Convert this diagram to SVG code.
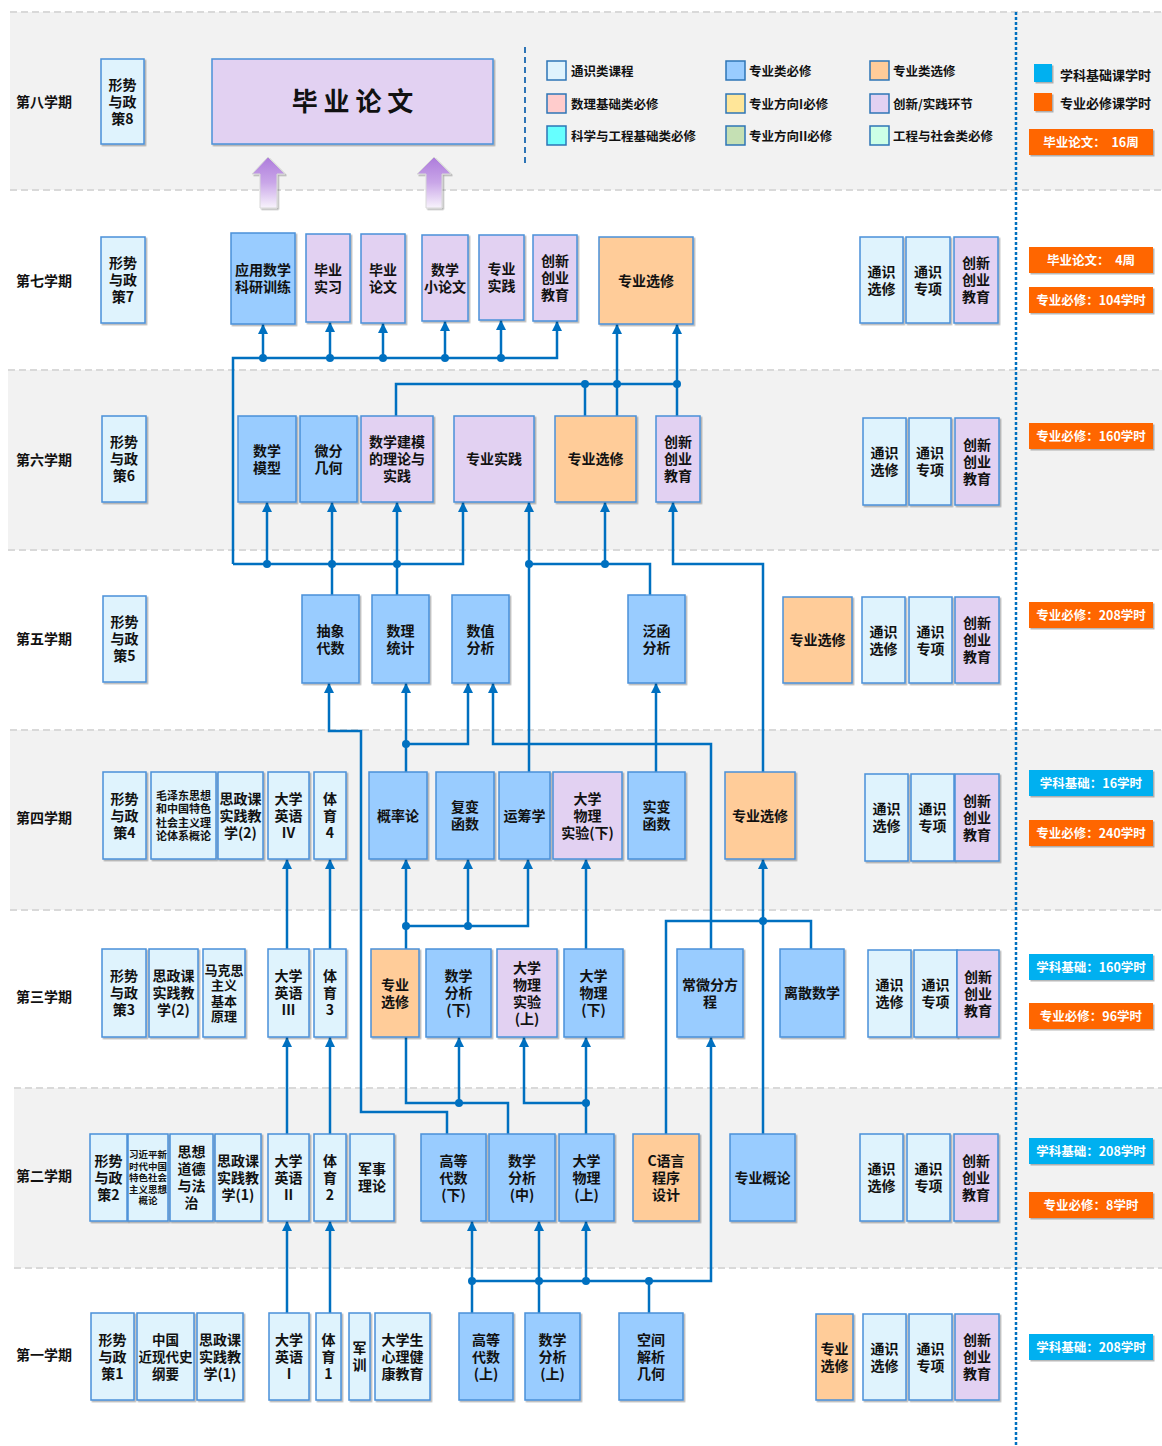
<svg xmlns="http://www.w3.org/2000/svg" width="1162" height="1446" viewBox="0 0 1162 1446">
<defs>
<style>
.nd{stroke:#4a90d9;stroke-width:1.5;filter:url(#sh)}
.g{fill:#dff3fd}.p{fill:#e2d1f2}.bl{fill:#99ccff}.o{fill:#ffcc99}
text{font-family:"Noto Sans CJK SC","Noto Sans",sans-serif;font-weight:bold;fill:#111}
.t{font-size:14px;text-anchor:middle}
.lab{font-size:14px}
.lg{font-size:12.5px}
.bd{font-size:12.5px;fill:#fff;text-anchor:middle;white-space:pre}
.c{fill:none;stroke:#0070c0;stroke-width:2.5}
.ar{marker-end:url(#a)}
.d{fill:#0070c0}
.sep{stroke:#d9d9d9;stroke-width:2;stroke-dasharray:7 4}
.band{fill:#f2f2f2}
.ls{stroke:#2e75b6;stroke-width:1.5}
</style>
<filter id="sh" x="-10%" y="-10%" width="130%" height="130%"><feDropShadow dx="1.5" dy="1.5" stdDeviation="0.7" flood-color="#000" flood-opacity="0.28"/></filter>
<marker id="a" viewBox="0 0 10 10" refX="10" refY="5" markerWidth="10" markerHeight="10" markerUnits="userSpaceOnUse" orient="auto"><path d="M0,0 L10,5 L0,10 z" fill="#0070c0"/></marker>
<linearGradient id="pg" x1="0" y1="0" x2="0" y2="1"><stop offset="0" stop-color="#ad7bdb"/><stop offset="0.5" stop-color="#c9a6e8"/><stop offset="1" stop-color="#f8f3fc"/></linearGradient>
</defs>

<g id="background">
<rect x="0" y="0" width="1162" height="1446" fill="#fff"/>
<rect class="band" x="10" y="12" width="1152" height="178"/>
<rect class="band" x="8" y="370" width="1154" height="180"/>
<rect class="band" x="10" y="730" width="1152" height="180"/>
<rect class="band" x="14" y="1088" width="1148" height="180"/>
<line class="sep" x1="10" y1="12" x2="1162" y2="12"/>
<line class="sep" x1="10" y1="190" x2="1162" y2="190"/>
<line class="sep" x1="8" y1="370" x2="1162" y2="370"/>
<line class="sep" x1="8" y1="550" x2="1162" y2="550"/>
<line class="sep" x1="10" y1="730" x2="1162" y2="730"/>
<line class="sep" x1="10" y1="910" x2="1162" y2="910"/>
<line class="sep" x1="14" y1="1088" x2="1162" y2="1088"/>
<line class="sep" x1="14" y1="1268" x2="1162" y2="1268"/>
<line x1="1016" y1="12" x2="1016" y2="1446" stroke="#0070c0" stroke-width="2.5" stroke-dasharray="3 2"/>
<line x1="525" y1="47" x2="525" y2="163" stroke="#2e75b6" stroke-width="2" stroke-dasharray="6 4"/>
</g>

<g id="semester-labels">
<text class="lab" x="16" y="107">第八学期</text>
<text class="lab" x="16" y="286">第七学期</text>
<text class="lab" x="16" y="465">第六学期</text>
<text class="lab" x="16" y="644">第五学期</text>
<text class="lab" x="16" y="823">第四学期</text>
<text class="lab" x="16" y="1002">第三学期</text>
<text class="lab" x="16" y="1181">第二学期</text>
<text class="lab" x="16" y="1360">第一学期</text>
</g>

<g id="legend">
<rect class="ls" x="547" y="61" width="19" height="19" fill="#dff3fd"/><text class="lg" x="571" y="76">通识类课程</text>
<rect class="ls" x="726" y="61" width="19" height="19" fill="#99ccff"/><text class="lg" x="749" y="76">专业类必修</text>
<rect class="ls" x="870" y="61" width="19" height="19" fill="#ffcc99"/><text class="lg" x="893" y="76">专业类选修</text>
<rect class="ls" x="547" y="94" width="19" height="19" fill="#ffcccc"/><text class="lg" x="571" y="109">数理基础类必修</text>
<rect class="ls" x="726" y="94" width="19" height="19" fill="#ffe699"/><text class="lg" x="749" y="109">专业方向I必修</text>
<rect class="ls" x="870" y="94" width="19" height="19" fill="#e2d1f2"/><text class="lg" x="893" y="109">创新/实践环节</text>
<rect class="ls" x="547" y="126" width="19" height="19" fill="#66ffff"/><text class="lg" x="571" y="141">科学与工程基础类必修</text>
<rect class="ls" x="726" y="126" width="19" height="19" fill="#c5e0b4"/><text class="lg" x="749" y="141">专业方向II必修</text>
<rect class="ls" x="870" y="126" width="19" height="19" fill="#ccffe6"/><text class="lg" x="893" y="141">工程与社会类必修</text>
</g>

<g id="hours-legend">
<rect x="1034" y="64" width="18" height="18" fill="#00b0f0" filter="url(#sh)"/><text x="1060" y="80" style="font-size:13px">学科基础课学时</text>
<rect x="1034" y="93" width="18" height="18" fill="#ff6600" filter="url(#sh)"/><text x="1060" y="108" style="font-size:13px">专业必修课学时</text>
</g>

<g id="hours-badges">
<rect x="1029" y="129" width="124" height="26" fill="#ff6600" filter="url(#sh)"/><text class="bd" x="1091" y="147">毕业论文：  16周</text>
<rect x="1029" y="247" width="124" height="26" fill="#ff6600" filter="url(#sh)"/><text class="bd" x="1091" y="265">毕业论文：  4周</text>
<rect x="1029" y="287" width="124" height="26" fill="#ff6600" filter="url(#sh)"/><text class="bd" x="1091" y="305">专业必修：104学时</text>
<rect x="1029" y="423" width="124" height="26" fill="#ff6600" filter="url(#sh)"/><text class="bd" x="1091" y="441">专业必修：160学时</text>
<rect x="1029" y="602" width="124" height="26" fill="#ff6600" filter="url(#sh)"/><text class="bd" x="1091" y="620">专业必修：208学时</text>
<rect x="1029" y="770" width="124" height="26" fill="#00b0f0" filter="url(#sh)"/><text class="bd" x="1091" y="788">学科基础：16学时</text>
<rect x="1029" y="820" width="124" height="26" fill="#ff6600" filter="url(#sh)"/><text class="bd" x="1091" y="838">专业必修：240学时</text>
<rect x="1029" y="954" width="124" height="26" fill="#00b0f0" filter="url(#sh)"/><text class="bd" x="1091" y="972">学科基础：160学时</text>
<rect x="1029" y="1003" width="124" height="26" fill="#ff6600" filter="url(#sh)"/><text class="bd" x="1091" y="1021">专业必修：96学时</text>
<rect x="1029" y="1138" width="124" height="26" fill="#00b0f0" filter="url(#sh)"/><text class="bd" x="1091" y="1156">学科基础：208学时</text>
<rect x="1029" y="1192" width="124" height="26" fill="#ff6600" filter="url(#sh)"/><text class="bd" x="1091" y="1210">专业必修：8学时</text>
<rect x="1029" y="1334" width="124" height="26" fill="#00b0f0" filter="url(#sh)"/><text class="bd" x="1091" y="1352">学科基础：208学时</text>
</g>

<g id="thesis-arrows">
<polygon points="268,157 285,174 277,174 277,208 260,208 260,174 252,174" fill="url(#pg)" stroke="#d8d8d8" stroke-width="1" filter="url(#sh)"/>
<polygon points="434,157 451,174 442,174 442,208 426,208 426,174 417,174" fill="url(#pg)" stroke="#d8d8d8" stroke-width="1" filter="url(#sh)"/>
</g>

<g id="connectors">
<path class="c ar" d="M233,564 V358 H557 V321"/>
<path class="c ar" d="M263,358 V324"/>
<path class="c ar" d="M330,358 V322"/>
<path class="c ar" d="M383,358 V323"/>
<path class="c ar" d="M445,358 V321"/>
<path class="c ar" d="M501,358 V320"/>
<circle class="d" cx="263" cy="358" r="4"/><circle class="d" cx="330" cy="358" r="4"/><circle class="d" cx="383" cy="358" r="4"/><circle class="d" cx="445" cy="358" r="4"/><circle class="d" cx="501" cy="358" r="4"/>

<path class="c" d="M396,416 V384 H677 V416"/>
<path class="c" d="M585,384 V416"/>
<path class="c ar" d="M617,416 V324"/>
<path class="c ar" d="M677,384 V324"/>
<circle class="d" cx="585" cy="384" r="4"/><circle class="d" cx="617" cy="384" r="4"/><circle class="d" cx="677" cy="384" r="4"/>

<path class="c ar" d="M233,564 H463 V502"/>
<path class="c ar" d="M267,564 V502"/>
<path class="c ar" d="M332,595 V502"/>
<path class="c ar" d="M397,595 V502"/>
<circle class="d" cx="267" cy="564" r="4"/><circle class="d" cx="332" cy="564" r="4"/><circle class="d" cx="397" cy="564" r="4"/>
<path class="c ar" d="M529,772 V502"/>
<path class="c" d="M529,564 H650 V595"/>
<path class="c ar" d="M605,564 V502"/>
<circle class="d" cx="529" cy="564" r="4"/><circle class="d" cx="605" cy="564" r="4"/>
<path class="c ar" d="M763,772 V564 H673 V502"/>

<path class="c ar" d="M447,1134 V1112 H361 V731 H329 V683"/>
<path class="c ar" d="M406,772 V744 H468 V683"/>
<path class="c ar" d="M406,744 V683"/>
<circle class="d" cx="406" cy="744" r="4"/>
<path class="c ar" d="M711,949 V744 H493 V683"/>
<path class="c ar" d="M656,772 V683"/>

<path class="c ar" d="M287,949 V859"/>
<path class="c ar" d="M330,949 V859"/>
<path class="c ar" d="M406,949 V926 H528 V859"/>
<path class="c ar" d="M406,926 V859"/>
<path class="c ar" d="M468,926 V859"/>
<circle class="d" cx="406" cy="926" r="4"/><circle class="d" cx="468" cy="926" r="4"/>
<path class="c ar" d="M586,949 V859"/>
<path class="c ar" d="M763,1134 V859"/>
<path class="c" d="M666,1134 V921 H811 V949"/>
<circle class="d" cx="763" cy="921" r="4"/>

<path class="c ar" d="M287,1134 V1037"/>
<path class="c ar" d="M330,1134 V1037"/>
<path class="c" d="M406,1037 V1103 H508 V1134"/>
<path class="c ar" d="M459,1103 V1037"/>
<circle class="d" cx="459" cy="1103" r="4"/>
<path class="c ar" d="M586,1134 V1103 H524 V1037"/>
<path class="c ar" d="M586,1103 V1037"/>
<circle class="d" cx="586" cy="1103" r="4"/>
<path class="c ar" d="M472,1313 V1281 H711 V1037"/>

<path class="c ar" d="M287,1313 V1221"/>
<path class="c ar" d="M330,1313 V1221"/>
<path class="c ar" d="M472,1281 V1221"/>
<path class="c ar" d="M539,1313 V1221"/>
<path class="c ar" d="M586,1281 V1221"/>
<path class="c" d="M649,1281 V1313"/>
<circle class="d" cx="472" cy="1281" r="4"/><circle class="d" cx="539" cy="1281" r="4"/><circle class="d" cx="586" cy="1281" r="4"/><circle class="d" cx="649" cy="1281" r="4"/>
</g>

<!-- Semester 8 -->
<g id="s8-xszc"><rect class="nd g" x="101" y="59" width="43" height="85"/><text class="t" x="122.5" y="89.5"><tspan x="122.5">形势</tspan><tspan x="122.5" dy="17">与政</tspan><tspan x="122.5" dy="17">策8</tspan></text></g>
<g id="s8-bylw"><rect class="nd p" x="212" y="59" width="281" height="85"/><text class="t" x="352.5" y="111" style="font-size:26px">毕 业 论 文</text></g>

<!-- Semester 7 -->
<g id="s7-xszc"><rect class="nd g" x="101" y="237" width="44" height="86"/><text class="t" x="123" y="268"><tspan x="123">形势</tspan><tspan x="123" dy="17">与政</tspan><tspan x="123" dy="17">策7</tspan></text></g>
<g id="s7-yysx"><rect class="nd bl" x="231" y="233" width="64" height="91"/><text class="t" x="263" y="275"><tspan x="263">应用数学</tspan><tspan x="263" dy="17">科研训练</tspan></text></g>
<g id="s7-bysx"><rect class="nd p" x="306" y="234" width="44" height="88"/><text class="t" x="328" y="274.5"><tspan x="328">毕业</tspan><tspan x="328" dy="17">实习</tspan></text></g>
<g id="s7-bylw"><rect class="nd p" x="361" y="234" width="44" height="89"/><text class="t" x="383" y="275"><tspan x="383">毕业</tspan><tspan x="383" dy="17">论文</tspan></text></g>
<g id="s7-sxxlw"><rect class="nd p" x="422" y="235" width="46" height="86"/><text class="t" x="445" y="274.5"><tspan x="445">数学</tspan><tspan x="445" dy="17">小论文</tspan></text></g>
<g id="s7-zysj"><rect class="nd p" x="479" y="235" width="45" height="85"/><text class="t" x="501.5" y="274"><tspan x="501.5">专业</tspan><tspan x="501.5" dy="17">实践</tspan></text></g>
<g id="s7-cxcy"><rect class="nd p" x="533" y="235" width="44" height="86"/><text class="t" x="555" y="266"><tspan x="555">创新</tspan><tspan x="555" dy="17">创业</tspan><tspan x="555" dy="17">教育</tspan></text></g>
<g id="s7-zyxx"><rect class="nd o" x="599" y="237" width="94" height="87"/><text class="t" x="646" y="285.5">专业选修</text></g>
<g id="s7-tsxx"><rect class="nd g" x="860" y="237" width="43" height="86"/><text class="t" x="881.5" y="276.5"><tspan x="881.5">通识</tspan><tspan x="881.5" dy="17">选修</tspan></text></g>
<g id="s7-tszx"><rect class="nd g" x="906" y="237" width="44" height="86"/><text class="t" x="928" y="276.5"><tspan x="928">通识</tspan><tspan x="928" dy="17">专项</tspan></text></g>
<g id="s7-cxcy2"><rect class="nd p" x="954" y="237" width="44" height="86"/><text class="t" x="976" y="268"><tspan x="976">创新</tspan><tspan x="976" dy="17">创业</tspan><tspan x="976" dy="17">教育</tspan></text></g>

<!-- Semester 6 -->
<g id="s6-xszc"><rect class="nd g" x="102" y="416" width="44" height="86"/><text class="t" x="124" y="447"><tspan x="124">形势</tspan><tspan x="124" dy="17">与政</tspan><tspan x="124" dy="17">策6</tspan></text></g>
<g id="s6-sxmx"><rect class="nd bl" x="238" y="416" width="58" height="86"/><text class="t" x="267" y="455.5"><tspan x="267">数学</tspan><tspan x="267" dy="17">模型</tspan></text></g>
<g id="s6-wfjh"><rect class="nd bl" x="300" y="416" width="57" height="86"/><text class="t" x="328.5" y="455.5"><tspan x="328.5">微分</tspan><tspan x="328.5" dy="17">几何</tspan></text></g>
<g id="s6-sxjm"><rect class="nd p" x="361" y="416" width="72" height="86"/><text class="t" x="397" y="447"><tspan x="397">数学建模</tspan><tspan x="397" dy="17">的理论与</tspan><tspan x="397" dy="17">实践</tspan></text></g>
<g id="s6-zysj"><rect class="nd p" x="454" y="416" width="80" height="86"/><text class="t" x="494" y="464">专业实践</text></g>
<g id="s6-zyxx"><rect class="nd o" x="555" y="416" width="81" height="86"/><text class="t" x="595.5" y="464">专业选修</text></g>
<g id="s6-cxcy"><rect class="nd p" x="656" y="416" width="44" height="86"/><text class="t" x="678" y="447"><tspan x="678">创新</tspan><tspan x="678" dy="17">创业</tspan><tspan x="678" dy="17">教育</tspan></text></g>
<g id="s6-tsxx"><rect class="nd g" x="863" y="418" width="43" height="87"/><text class="t" x="884.5" y="458"><tspan x="884.5">通识</tspan><tspan x="884.5" dy="17">选修</tspan></text></g>
<g id="s6-tszx"><rect class="nd g" x="909" y="418" width="42" height="87"/><text class="t" x="930" y="458"><tspan x="930">通识</tspan><tspan x="930" dy="17">专项</tspan></text></g>
<g id="s6-cxcy2"><rect class="nd p" x="955" y="418" width="44" height="87"/><text class="t" x="977" y="449.5"><tspan x="977">创新</tspan><tspan x="977" dy="17">创业</tspan><tspan x="977" dy="17">教育</tspan></text></g>

<!-- Semester 5 -->
<g id="s5-xszc"><rect class="nd g" x="103" y="596" width="43" height="86"/><text class="t" x="124.5" y="627"><tspan x="124.5">形势</tspan><tspan x="124.5" dy="17">与政</tspan><tspan x="124.5" dy="17">策5</tspan></text></g>
<g id="s5-cxds"><rect class="nd bl" x="302" y="595" width="57" height="88"/><text class="t" x="330.5" y="635.5"><tspan x="330.5">抽象</tspan><tspan x="330.5" dy="17">代数</tspan></text></g>
<g id="s5-sltj"><rect class="nd bl" x="372" y="595" width="57" height="88"/><text class="t" x="400.5" y="635.5"><tspan x="400.5">数理</tspan><tspan x="400.5" dy="17">统计</tspan></text></g>
<g id="s5-szfx"><rect class="nd bl" x="452" y="595" width="57" height="88"/><text class="t" x="480.5" y="635.5"><tspan x="480.5">数值</tspan><tspan x="480.5" dy="17">分析</tspan></text></g>
<g id="s5-fhfx"><rect class="nd bl" x="628" y="595" width="57" height="88"/><text class="t" x="656.5" y="635.5"><tspan x="656.5">泛函</tspan><tspan x="656.5" dy="17">分析</tspan></text></g>
<g id="s5-zyxx"><rect class="nd o" x="783" y="597" width="69" height="86"/><text class="t" x="817.5" y="645">专业选修</text></g>
<g id="s5-tsxx"><rect class="nd g" x="862" y="597" width="43" height="86"/><text class="t" x="883.5" y="636.5"><tspan x="883.5">通识</tspan><tspan x="883.5" dy="17">选修</tspan></text></g>
<g id="s5-tszx"><rect class="nd g" x="909" y="597" width="43" height="86"/><text class="t" x="930.5" y="636.5"><tspan x="930.5">通识</tspan><tspan x="930.5" dy="17">专项</tspan></text></g>
<g id="s5-cxcy"><rect class="nd p" x="955" y="597" width="44" height="86"/><text class="t" x="977" y="628"><tspan x="977">创新</tspan><tspan x="977" dy="17">创业</tspan><tspan x="977" dy="17">教育</tspan></text></g>

<!-- Semester 4 -->
<g id="s4-xszc"><rect class="nd g" x="103" y="772" width="43" height="87"/><text class="t" x="124.5" y="803.5"><tspan x="124.5">形势</tspan><tspan x="124.5" dy="17">与政</tspan><tspan x="124.5" dy="17">策4</tspan></text></g>
<g id="s4-mzd"><rect class="nd g" x="151" y="772" width="65" height="87"/><text class="t" x="183.5" y="799.5" style="font-size:11px"><tspan x="183.5">毛泽东思想</tspan><tspan x="183.5" dy="13.5">和中国特色</tspan><tspan x="183.5" dy="13.5">社会主义理</tspan><tspan x="183.5" dy="13.5">论体系概论</tspan></text></g>
<g id="s4-szk"><rect class="nd g" x="218" y="772" width="45" height="87"/><text class="t" x="240.5" y="803.5"><tspan x="240.5">思政课</tspan><tspan x="240.5" dy="17">实践教</tspan><tspan x="240.5" dy="17">学(2)</tspan></text></g>
<g id="s4-dxyy"><rect class="nd g" x="268" y="772" width="41" height="87"/><text class="t" x="288.5" y="803.5"><tspan x="288.5">大学</tspan><tspan x="288.5" dy="17">英语</tspan><tspan x="288.5" dy="17">IV</tspan></text></g>
<g id="s4-ty"><rect class="nd g" x="314" y="772" width="32" height="87"/><text class="t" x="330" y="803.5"><tspan x="330">体</tspan><tspan x="330" dy="17">育</tspan><tspan x="330" dy="17">4</tspan></text></g>
<g id="s4-gll"><rect class="nd bl" x="369" y="772" width="58" height="87"/><text class="t" x="398" y="820.5">概率论</text></g>
<g id="s4-fbhs"><rect class="nd bl" x="436" y="772" width="58" height="87"/><text class="t" x="465" y="812"><tspan x="465">复变</tspan><tspan x="465" dy="17">函数</tspan></text></g>
<g id="s4-ycx"><rect class="nd bl" x="499" y="772" width="51" height="87"/><text class="t" x="524.5" y="820.5">运筹学</text></g>
<g id="s4-dwlsy"><rect class="nd p" x="553" y="772" width="69" height="87"/><text class="t" x="587.5" y="803.5"><tspan x="587.5">大学</tspan><tspan x="587.5" dy="17">物理</tspan><tspan x="587.5" dy="17">实验(下)</tspan></text></g>
<g id="s4-sbhs"><rect class="nd bl" x="628" y="772" width="57" height="87"/><text class="t" x="656.5" y="812"><tspan x="656.5">实变</tspan><tspan x="656.5" dy="17">函数</tspan></text></g>
<g id="s4-zyxx"><rect class="nd o" x="725" y="772" width="70" height="87"/><text class="t" x="760" y="820.5">专业选修</text></g>
<g id="s4-tsxx"><rect class="nd g" x="865" y="774" width="43" height="87"/><text class="t" x="886.5" y="814"><tspan x="886.5">通识</tspan><tspan x="886.5" dy="17">选修</tspan></text></g>
<g id="s4-tszx"><rect class="nd g" x="911" y="774" width="43" height="87"/><text class="t" x="932.5" y="814"><tspan x="932.5">通识</tspan><tspan x="932.5" dy="17">专项</tspan></text></g>
<g id="s4-cxcy"><rect class="nd p" x="955" y="774" width="44" height="87"/><text class="t" x="977" y="805.5"><tspan x="977">创新</tspan><tspan x="977" dy="17">创业</tspan><tspan x="977" dy="17">教育</tspan></text></g>

<!-- Semester 3 -->
<g id="s3-xszc"><rect class="nd g" x="102" y="949" width="44" height="88"/><text class="t" x="124" y="981"><tspan x="124">形势</tspan><tspan x="124" dy="17">与政</tspan><tspan x="124" dy="17">策3</tspan></text></g>
<g id="s3-szk"><rect class="nd g" x="149" y="949" width="49" height="88"/><text class="t" x="173.5" y="981"><tspan x="173.5">思政课</tspan><tspan x="173.5" dy="17">实践教</tspan><tspan x="173.5" dy="17">学(2)</tspan></text></g>
<g id="s3-mks"><rect class="nd g" x="203" y="949" width="42" height="88"/><text class="t" x="224" y="974.5" style="font-size:13px"><tspan x="224">马克思</tspan><tspan x="224" dy="15.5">主义</tspan><tspan x="224" dy="15.5">基本</tspan><tspan x="224" dy="15.5">原理</tspan></text></g>
<g id="s3-dxyy"><rect class="nd g" x="268" y="949" width="41" height="88"/><text class="t" x="288.5" y="981"><tspan x="288.5">大学</tspan><tspan x="288.5" dy="17">英语</tspan><tspan x="288.5" dy="17">III</tspan></text></g>
<g id="s3-ty"><rect class="nd g" x="314" y="949" width="32" height="88"/><text class="t" x="330" y="981"><tspan x="330">体</tspan><tspan x="330" dy="17">育</tspan><tspan x="330" dy="17">3</tspan></text></g>
<g id="s3-zyxx"><rect class="nd o" x="371" y="949" width="48" height="88"/><text class="t" x="395" y="989.5"><tspan x="395">专业</tspan><tspan x="395" dy="17">选修</tspan></text></g>
<g id="s3-sxfx"><rect class="nd bl" x="426" y="949" width="65" height="88"/><text class="t" x="458.5" y="981"><tspan x="458.5">数学</tspan><tspan x="458.5" dy="17">分析</tspan><tspan x="458.5" dy="17">(下)</tspan></text></g>
<g id="s3-dwlsy"><rect class="nd p" x="497" y="949" width="60" height="88"/><text class="t" x="527" y="972.5"><tspan x="527">大学</tspan><tspan x="527" dy="17">物理</tspan><tspan x="527" dy="17">实验</tspan><tspan x="527" dy="17">(上)</tspan></text></g>
<g id="s3-dxwl"><rect class="nd bl" x="564" y="949" width="59" height="88"/><text class="t" x="593.5" y="981"><tspan x="593.5">大学</tspan><tspan x="593.5" dy="17">物理</tspan><tspan x="593.5" dy="17">(下)</tspan></text></g>
<g id="s3-cwffc"><rect class="nd bl" x="677" y="949" width="66" height="88"/><text class="t" x="710" y="989.5"><tspan x="710">常微分方</tspan><tspan x="710" dy="17">程</tspan></text></g>
<g id="s3-lssx"><rect class="nd bl" x="780" y="949" width="64" height="88"/><text class="t" x="812" y="998">离散数学</text></g>
<g id="s3-tsxx"><rect class="nd g" x="868" y="950" width="43" height="87"/><text class="t" x="889.5" y="990"><tspan x="889.5">通识</tspan><tspan x="889.5" dy="17">选修</tspan></text></g>
<g id="s3-tszx"><rect class="nd g" x="914" y="950" width="43" height="87"/><text class="t" x="935.5" y="990"><tspan x="935.5">通识</tspan><tspan x="935.5" dy="17">专项</tspan></text></g>
<g id="s3-cxcy"><rect class="nd p" x="957" y="950" width="42" height="87"/><text class="t" x="978" y="981.5"><tspan x="978">创新</tspan><tspan x="978" dy="17">创业</tspan><tspan x="978" dy="17">教育</tspan></text></g>

<!-- Semester 2 -->
<g id="s2-xszc"><rect class="nd g" x="90" y="1134" width="37" height="87"/><text class="t" x="108.5" y="1165.5"><tspan x="108.5">形势</tspan><tspan x="108.5" dy="17">与政</tspan><tspan x="108.5" dy="17">策2</tspan></text></g>
<g id="s2-xjp"><rect class="nd g" x="128" y="1134" width="40" height="87"/><text class="t" x="148" y="1158" style="font-size:9.5px"><tspan x="148">习近平新</tspan><tspan x="148" dy="11.5">时代中国</tspan><tspan x="148" dy="11.5">特色社会</tspan><tspan x="148" dy="11.5">主义思想</tspan><tspan x="148" dy="11.5">概论</tspan></text></g>
<g id="s2-sxdd"><rect class="nd g" x="170" y="1134" width="43" height="87"/><text class="t" x="191.5" y="1157"><tspan x="191.5">思想</tspan><tspan x="191.5" dy="17">道德</tspan><tspan x="191.5" dy="17">与法</tspan><tspan x="191.5" dy="17">治</tspan></text></g>
<g id="s2-szk"><rect class="nd g" x="215" y="1134" width="46" height="87"/><text class="t" x="238" y="1165.5"><tspan x="238">思政课</tspan><tspan x="238" dy="17">实践教</tspan><tspan x="238" dy="17">学(1)</tspan></text></g>
<g id="s2-dxyy"><rect class="nd g" x="268" y="1134" width="41" height="87"/><text class="t" x="288.5" y="1165.5"><tspan x="288.5">大学</tspan><tspan x="288.5" dy="17">英语</tspan><tspan x="288.5" dy="17">II</tspan></text></g>
<g id="s2-ty"><rect class="nd g" x="314" y="1134" width="32" height="87"/><text class="t" x="330" y="1165.5"><tspan x="330">体</tspan><tspan x="330" dy="17">育</tspan><tspan x="330" dy="17">2</tspan></text></g>
<g id="s2-jsll"><rect class="nd g" x="350" y="1134" width="44" height="87"/><text class="t" x="372" y="1174"><tspan x="372">军事</tspan><tspan x="372" dy="17">理论</tspan></text></g>
<g id="s2-gdds"><rect class="nd bl" x="421" y="1134" width="65" height="87"/><text class="t" x="453.5" y="1165.5"><tspan x="453.5">高等</tspan><tspan x="453.5" dy="17">代数</tspan><tspan x="453.5" dy="17">(下)</tspan></text></g>
<g id="s2-sxfx"><rect class="nd bl" x="489" y="1134" width="66" height="87"/><text class="t" x="522" y="1165.5"><tspan x="522">数学</tspan><tspan x="522" dy="17">分析</tspan><tspan x="522" dy="17">(中)</tspan></text></g>
<g id="s2-dxwl"><rect class="nd bl" x="559" y="1134" width="55" height="87"/><text class="t" x="586.5" y="1165.5"><tspan x="586.5">大学</tspan><tspan x="586.5" dy="17">物理</tspan><tspan x="586.5" dy="17">(上)</tspan></text></g>
<g id="s2-cyy"><rect class="nd o" x="633" y="1134" width="66" height="87"/><text class="t" x="666" y="1165.5"><tspan x="666">C语言</tspan><tspan x="666" dy="17">程序</tspan><tspan x="666" dy="17">设计</tspan></text></g>
<g id="s2-zygl"><rect class="nd bl" x="730" y="1134" width="65" height="87"/><text class="t" x="762.5" y="1182.5">专业概论</text></g>
<g id="s2-tsxx"><rect class="nd g" x="860" y="1134" width="43" height="87"/><text class="t" x="881.5" y="1174"><tspan x="881.5">通识</tspan><tspan x="881.5" dy="17">选修</tspan></text></g>
<g id="s2-tszx"><rect class="nd g" x="907" y="1134" width="43" height="87"/><text class="t" x="928.5" y="1174"><tspan x="928.5">通识</tspan><tspan x="928.5" dy="17">专项</tspan></text></g>
<g id="s2-cxcy"><rect class="nd p" x="954" y="1134" width="44" height="87"/><text class="t" x="976" y="1165.5"><tspan x="976">创新</tspan><tspan x="976" dy="17">创业</tspan><tspan x="976" dy="17">教育</tspan></text></g>

<!-- Semester 1 -->
<g id="s1-xszc"><rect class="nd g" x="91" y="1313" width="43" height="87"/><text class="t" x="112.5" y="1344.5"><tspan x="112.5">形势</tspan><tspan x="112.5" dy="17">与政</tspan><tspan x="112.5" dy="17">策1</tspan></text></g>
<g id="s1-zgjxds"><rect class="nd g" x="137" y="1313" width="57" height="87"/><text class="t" x="165.5" y="1344.5" style="font-size:13.5px"><tspan x="165.5">中国</tspan><tspan x="165.5" dy="17">近现代史</tspan><tspan x="165.5" dy="17">纲要</tspan></text></g>
<g id="s1-szk"><rect class="nd g" x="197" y="1313" width="46" height="87"/><text class="t" x="220" y="1344.5"><tspan x="220">思政课</tspan><tspan x="220" dy="17">实践教</tspan><tspan x="220" dy="17">学(1)</tspan></text></g>
<g id="s1-dxyy"><rect class="nd g" x="269" y="1313" width="40" height="87"/><text class="t" x="289" y="1344.5"><tspan x="289">大学</tspan><tspan x="289" dy="17">英语</tspan><tspan x="289" dy="17">I</tspan></text></g>
<g id="s1-ty"><rect class="nd g" x="316" y="1313" width="25" height="87"/><text class="t" x="328.5" y="1344.5"><tspan x="328.5">体</tspan><tspan x="328.5" dy="17">育</tspan><tspan x="328.5" dy="17">1</tspan></text></g>
<g id="s1-jx"><rect class="nd g" x="349" y="1313" width="21" height="87"/><text class="t" x="359.5" y="1353"><tspan x="359.5">军</tspan><tspan x="359.5" dy="17">训</tspan></text></g>
<g id="s1-xljk"><rect class="nd g" x="375" y="1313" width="55" height="87"/><text class="t" x="402.5" y="1344.5"><tspan x="402.5">大学生</tspan><tspan x="402.5" dy="17">心理健</tspan><tspan x="402.5" dy="17">康教育</tspan></text></g>
<g id="s1-gdds"><rect class="nd bl" x="459" y="1313" width="54" height="87"/><text class="t" x="486" y="1344.5"><tspan x="486">高等</tspan><tspan x="486" dy="17">代数</tspan><tspan x="486" dy="17">(上)</tspan></text></g>
<g id="s1-sxfx"><rect class="nd bl" x="525" y="1313" width="55" height="87"/><text class="t" x="552.5" y="1344.5"><tspan x="552.5">数学</tspan><tspan x="552.5" dy="17">分析</tspan><tspan x="552.5" dy="17">(上)</tspan></text></g>
<g id="s1-kjjx"><rect class="nd bl" x="619" y="1313" width="64" height="87"/><text class="t" x="651" y="1344.5"><tspan x="651">空间</tspan><tspan x="651" dy="17">解析</tspan><tspan x="651" dy="17">几何</tspan></text></g>
<g id="s1-zyxx"><rect class="nd o" x="816" y="1314" width="37" height="86"/><text class="t" x="834.5" y="1353.5"><tspan x="834.5">专业</tspan><tspan x="834.5" dy="17">选修</tspan></text></g>
<g id="s1-tsxx"><rect class="nd g" x="863" y="1314" width="43" height="86"/><text class="t" x="884.5" y="1353.5"><tspan x="884.5">通识</tspan><tspan x="884.5" dy="17">选修</tspan></text></g>
<g id="s1-tszx"><rect class="nd g" x="909" y="1314" width="43" height="86"/><text class="t" x="930.5" y="1353.5"><tspan x="930.5">通识</tspan><tspan x="930.5" dy="17">专项</tspan></text></g>
<g id="s1-cxcy"><rect class="nd p" x="955" y="1314" width="44" height="86"/><text class="t" x="977" y="1345"><tspan x="977">创新</tspan><tspan x="977" dy="17">创业</tspan><tspan x="977" dy="17">教育</tspan></text></g>
</svg>
